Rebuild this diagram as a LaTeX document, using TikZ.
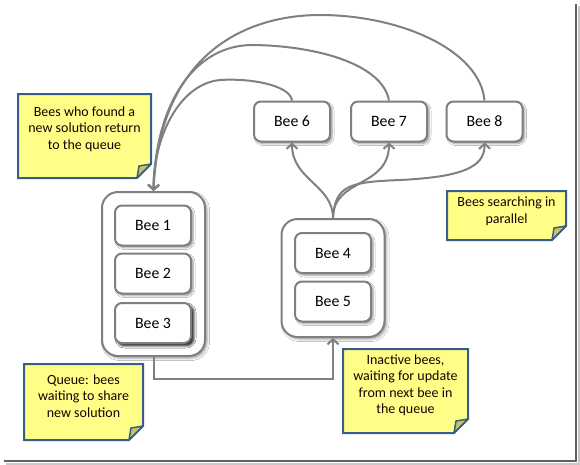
\documentclass[tikz,border=0pt]{standalone}
\usepackage{fontspec}
\setmainfont{Carlito}
\usetikzlibrary{arrows.meta,shadows.blur}
\definecolor{boxgray}{HTML}{7F7F7F}
\definecolor{conngray}{HTML}{808080}
\definecolor{noteblue}{HTML}{385D8A}
\definecolor{noteyellow}{HTML}{FFFF88}
\definecolor{notefoldc}{HTML}{C6C65C}
\newcommand\stickynote[7]{%
  \draw[noteframe] ({#2-#4/2},{#3-#5/2}) -- ({#2+#4/2},{#3-#5/2}) -- ({#2+#4/2},{#3+#5/2-14}) -- ({#2+#4/2-14},{#3+#5/2}) -- ({#2-#4/2},{#3+#5/2}) -- cycle;
  \draw[notefold] ({#2+#4/2},{#3+#5/2-14}) -- ({#2+#4/2-12},{#3+#5/2-12}) -- ({#2+#4/2-14},{#3+#5/2}) -- cycle;
  \node[notetext] (#1) at (#2,{#3-#7}) {#6};
}
\begin{document}
\begin{tikzpicture}[x=1pt,y=-1pt,
  beebox/.style={draw=boxgray, line width=2pt, fill=white, rounded corners=7pt,
    minimum width=76pt, minimum height=40pt, inner sep=0pt,
    font=\fontsize{15.8}{18}\selectfont,
    blur shadow={shadow xshift=2pt, shadow yshift=-2pt, shadow blur radius=2pt, shadow opacity=45}},
  groupbox/.style={draw=boxgray, line width=2pt, fill=white, rounded corners=16pt, inner sep=0pt,
    blur shadow={shadow xshift=2pt, shadow yshift=-2pt, shadow blur radius=2.5pt, shadow opacity=40}},
  conn/.style={draw=conngray, line width=2pt, -{Straight Barb[length=5pt,width=11pt]}},
  noteframe/.style={draw=noteblue, line width=2pt, fill=noteyellow, line join=miter},
  notefold/.style={draw=noteblue, line width=1.5pt, fill=notefoldc, line join=round},
  notetext/.style={align=center, inner sep=0pt, font=\fontsize{14}{16.5}\selectfont, text=black!90!red}
]
\useasboundingbox (0,0) rectangle (580,464);
\fill[white] (0,0) rectangle (580,464);
% frame shadow
\draw[line width=2pt, black!22] (578.5,6) -- (578.5,463.5) -- (6,463.5);
\draw[line width=2.5pt, black!62] (576,4) -- (576,461) -- (4,461);

% containers
\node[groupbox, minimum width=103pt, minimum height=164pt] (queue) at (153.5,274) {};
\node[groupbox, minimum width=103pt, minimum height=118pt] (inactive) at (333,278) {};

% bees
\node[beebox] (b1) at (153,225.5) {Bee 1};
\node[beebox] (b2) at (153,273.5) {Bee 2};
\node[beebox, blur shadow={shadow xshift=2.5pt, shadow yshift=-2.5pt, shadow blur radius=2.5pt, shadow opacity=65}] (b3) at (153,323) {Bee 3};
\node[beebox] (b4) at (333,253) {Bee 4};
\node[beebox] (b5) at (333,301.5) {Bee 5};
\node[beebox] (b6) at (292,121.5) {Bee 6};
\node[beebox] (b7) at (389,121.5) {Bee 7};
\node[beebox] (b8) at (484.5,121.5) {Bee 8};

% queue -> inactive
\draw[conn] (queue.south) -- ++(0,22) -| (inactive.south);

% fan out
\draw[conn] (inactive.north) .. controls (333,185) and (292,180) .. (b6.south);
\draw[conn] (inactive.north) .. controls (333,178) and (389,188) .. (b7.south);
\draw[conn] (inactive.north) .. controls (335,185) and (350,182) .. (400,180) .. controls (460,177) and (485,168) .. (b8.south);

% return to queue
\draw[conn] (b6.north) .. controls (290,85) and (250,78) .. (220,80) .. controls (178,84) and (153,140) .. (queue.north);
\draw[conn] (b7.north) .. controls (382,62) and (310,45) .. (250,45) .. controls (190,47) and (155,110) .. (queue.north);
\draw[conn] (b8.north) .. controls (480,50) and (400,15) .. (320,15) .. controls (250,15) and (160,50) .. (queue.north);

% notes
\stickynote{n1}{84.5}{136}{133}{84}{Bees who found a\\new solution return\\to the queue}{7}
\stickynote{n2}{506.5}{215.5}{119}{49}{Bees searching in\\parallel}{4}
\stickynote{n3}{83.5}{402}{119}{76}{Queue: bees\\waiting to share\\new solution}{6}
\stickynote{n4}{405.5}{391}{125}{84}{Inactive bees,\\waiting for update\\from next bee in\\the queue}{5.5}
\end{tikzpicture}
\end{document}
